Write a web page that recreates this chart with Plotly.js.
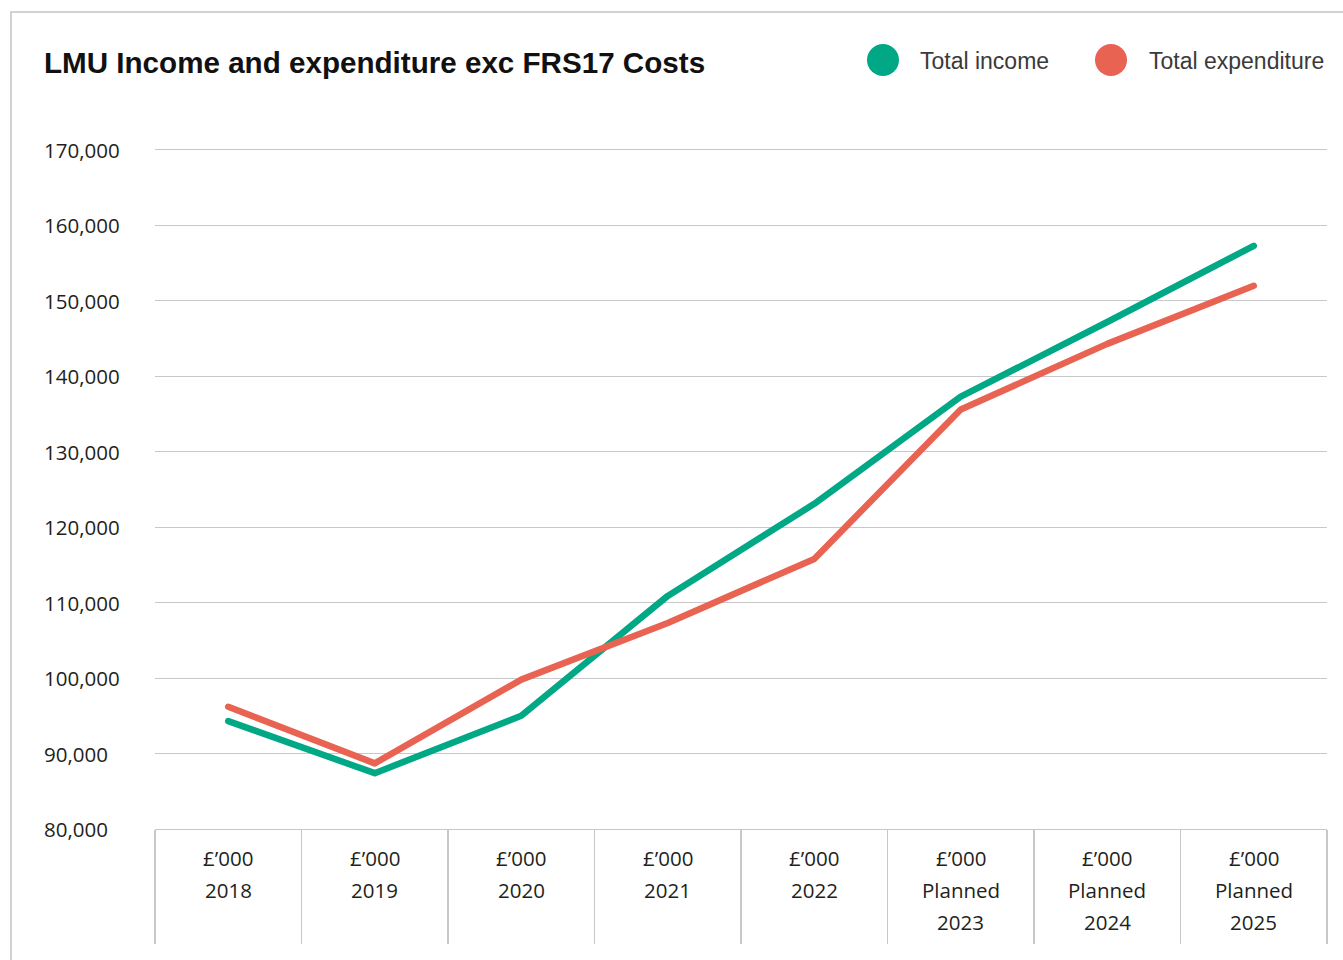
<!DOCTYPE html>
<html>
<head>
<meta charset="utf-8">
<script src="https://cdn.plot.ly/plotly-3.0.1.min.js"></script>
<style>
  html, body { margin: 0; padding: 0; background: #fff; }
  #wrap { position: relative; width: 1343px; height: 960px; overflow: hidden; }
  #chart { position: absolute; left: 0; top: 0; width: 1343px; height: 960px; }
  #frame { position: absolute; left: 10px; top: 11px; width: 1400px; height: 1000px;
           border-top: 2px solid #d2d2d2; border-left: 2px solid #d2d2d2; pointer-events: none; }
  .scatterlayer path.js-line { stroke-linecap: round; stroke-linejoin: round; }
</style>
</head>
<body>
<div id="wrap">
  <div id="chart"></div>
  <div id="frame"></div>
</div>
<script>
// ---- data ----
const categories = ["2018", "2019", "2020", "2021", "2022", "Planned 2023", "Planned 2024", "Planned 2025"];
const categoryLabels = [
  ["£’000", "2018"],
  ["£’000", "2019"],
  ["£’000", "2020"],
  ["£’000", "2021"],
  ["£’000", "2022"],
  ["£’000", "Planned", "2023"],
  ["£’000", "Planned", "2024"],
  ["£’000", "Planned", "2025"]
];
const totalIncome      = [94300, 87400, 95000, 110900, 123100, 137300, 147200, 157300];
const totalExpenditure = [96200, 88700, 99800, 107300, 115800, 135600, 144300, 152000];
const yTickValues = [80000, 90000, 100000, 110000, 120000, 130000, 140000, 150000, 160000, 170000];
const yTickLabels = ["80,000", "90,000", "100,000", "110,000", "120,000", "130,000", "140,000", "150,000", "160,000", "170,000"];
const seriesNames = ["Total income", "Total expenditure"];
const seriesColors = ["#00a886", "#e96352"];

// ---- layout geometry ----
const W = 1343, H = 960;
const M = { l: 155, r: 16, t: 150, b: 131 };
const PW = W - M.l - M.r, PH = H - M.t - M.b;
const px2x = p => (p - M.l) / PW;
const py2y = p => 1 - (p - M.t) / PH;

const tickFont = { family: "Open Sans, sans-serif", size: 20.5, color: "#231f20" };

const traces = [
  { x: categories, y: totalIncome, name: seriesNames[0], type: "scatter", mode: "lines",
    line: { color: seriesColors[0], width: 6.5 }, hoverinfo: "skip" },
  { x: categories, y: totalExpenditure, name: seriesNames[1], type: "scatter", mode: "lines",
    line: { color: seriesColors[1], width: 6.5 }, hoverinfo: "skip" }
];

const annotations = [];
// y tick labels (left aligned)
yTickValues.forEach((v, i) => {
  annotations.push({ xref: "paper", yref: "y", x: px2x(42), y: v, xanchor: "left", yanchor: "middle",
    text: yTickLabels[i], showarrow: false, font: tickFont });
});
// category labels
categoryLabels.forEach((lines, i) => {
  lines.forEach((t, j) => {
    annotations.push({ xref: "x", yref: "paper", x: i, y: 0, yshift: -(29 + 32 * j),
      xanchor: "center", yanchor: "middle", text: t, showarrow: false, font: tickFont });
  });
});
// legend texts
const legendText = [918, 1147];
const legendDot = [883, 1111];
const legendY = 60;
seriesNames.forEach((n, i) => {
  annotations.push({ xref: "paper", yref: "paper", x: px2x(legendText[i]), y: py2y(legendY + 1),
    xanchor: "left", yanchor: "middle", text: n, showarrow: false,
    font: { family: "Liberation Sans, Arial, sans-serif", size: 23, color: "#3a3a3a" } });
});

const shapes = seriesNames.map((n, i) => ({
  type: "circle", xref: "paper", yref: "paper", xsizemode: "pixel", ysizemode: "pixel",
  xanchor: px2x(legendDot[i]), yanchor: py2y(legendY), x0: -16, x1: 16, y0: -16, y1: 16,
  fillcolor: seriesColors[i], line: { width: 0 }
}));

const layout = {
  width: W, height: H,
  margin: M,
  paper_bgcolor: "#ffffff", plot_bgcolor: "#ffffff",
  showlegend: false,
  title: { text: "LMU Income and expenditure exc FRS17 Costs", xref: "container", yref: "container",
    x: 44 / W, xanchor: "left", y: 1 - 63 / H, yanchor: "middle",
    font: { family: "Liberation Sans, Arial, sans-serif", size: 29.6, color: "#111111", weight: "bold" } },
  xaxis: {
    type: "category", range: [-0.5, categories.length - 0.5], fixedrange: true,
    showgrid: false, zeroline: false, showline: true, mirror: true, linecolor: "#c8c8c8", linewidth: 1.3,
    tickson: "boundaries", ticks: "outside", ticklen: 114, tickwidth: 1.5, tickcolor: "#c8c8c8",
    showticklabels: false
  },
  yaxis: {
    range: [80000, 170000], fixedrange: true, tickvals: yTickValues,
    showgrid: true, gridcolor: "#c8c8c8", gridwidth: 1.2, zeroline: false,
    showline: false, ticks: "", showticklabels: false
  },
  annotations: annotations,
  shapes: shapes
};

Plotly.newPlot("chart", traces, layout, { displayModeBar: false, staticPlot: true });
</script>
</body>
</html>
